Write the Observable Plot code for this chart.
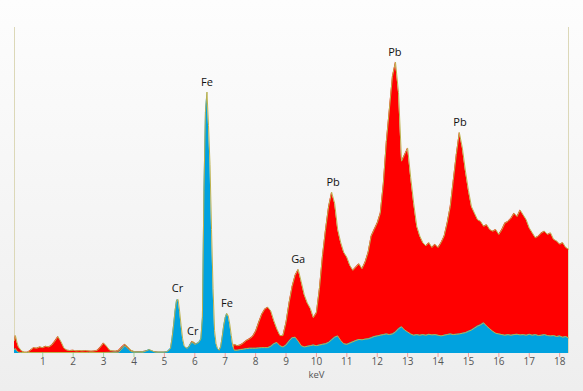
<!DOCTYPE html>
<html><head><meta charset="utf-8">
<script src="https://cdn.jsdelivr.net/npm/d3@7"></script>
<script src="https://cdn.jsdelivr.net/npm/@observablehq/plot@0.6"></script>
<style>
html,body{margin:0;padding:0;width:583px;height:391px;overflow:hidden;background:linear-gradient(#fdfdfd,#eeeeee)}
</style></head><body><div id="chart"></div>
<script>
// energies (keV) shared by both spectra above 8 keV
const highKeV = [
 8.0,8.1,8.2,8.3,8.4,8.5,8.6,8.7,8.8,8.9,
 9.0,9.1,9.2,9.3,9.4,9.5,9.6,9.7,9.8,9.9,
 10.0,10.1,10.2,10.3,10.4,10.5,10.6,10.7,10.8,10.9,
 11.0,11.1,11.2,11.3,11.4,11.5,11.6,11.7,11.8,11.9,
 12.0,12.1,12.2,12.3,12.4,12.5,12.6,12.7,12.8,12.9,
 13.0,13.1,13.2,13.3,13.4,13.5,13.6,13.7,13.8,13.9,
 14.0,14.1,14.2,14.3,14.4,14.5,14.6,14.7,14.8,14.9,
 15.0,15.1,15.2,15.3,15.4,15.5,15.6,15.7,15.8,15.9,
 16.0,16.1,16.2,16.3,16.4,16.5,16.6,16.7,16.8,16.9,
 17.0,17.1,17.2,17.3,17.4,17.5,17.6,17.7,17.8,17.9,
 18.0,18.1,18.2,18.29];

// red spectrum
const redLowKeV = [
 0.07,0.1,0.15,0.2,0.3,0.4,0.5,0.6,0.7,0.8,0.9,
 1.0,1.1,1.2,1.3,1.4,1.5,1.6,1.7,1.8,1.9,
 2.0,2.1,2.2,2.3,2.4,2.5,2.6,2.7,2.8,2.9,
 3.0,3.1,3.2,3.3,3.4,3.5,3.6,3.7,3.8,3.9,
 4.0,4.1,4.2,4.3,4.4,4.5,4.6,4.7,4.8,4.9,
 5.0,5.1,5.2,5.5,5.8,5.9,6.0,6.1,6.8,7.2,7.3,7.4,7.5,7.6,7.7,7.8,7.9];
const redLowCounts = [
 4.0,5.5,3.5,2.0,0.8,0.4,0.4,1.0,1.8,1.6,2.0,
 1.8,2.2,2.0,2.6,3.8,5.2,3.6,1.6,1.0,0.9,
 1.0,0.8,0.9,0.8,0.9,0.8,0.7,0.8,1.0,2.0,
 3.2,2.2,1.0,0.8,0.7,1.0,2.0,2.8,2.0,1.0,
 0.6,0.5,0.5,0.6,0.8,1.0,0.7,0.5,0.4,0.4,
 0.4,0.4,0.4,0.4,1.5,3.7,3.3,0.5,0.5,0.5,2.8,2.4,2.6,3.2,4.0,4.5,5.2];
const redHighCounts = [
 6.8,9.5,12.0,13.6,14.2,13.0,10.0,7.5,5.5,5.5,
 9.5,15.5,20.5,24.0,25.8,22.0,18.0,15.5,13.8,11.0,
 12.5,20.0,30.0,38.0,45.0,49.5,46.0,38.0,34.0,31.0,
 29.5,27.0,25.5,26.5,27.5,26.0,28.0,31.0,36.0,38.0,
 40.0,43.0,52.0,65.0,75.0,85.0,89.4,80.0,59.0,61.0,
 63.0,54.0,46.0,39.0,36.0,34.0,33.0,34.0,32.5,33.5,
 32.5,34.0,36.0,40.0,45.0,53.0,61.0,67.8,63.0,56.0,
 50.0,45.0,43.0,41.0,40.5,39.0,39.5,38.0,37.5,38.0,
 36.5,38.0,40.0,40.5,41.5,43.0,42.0,44.0,42.5,41.0,
 38.5,37.0,35.5,36.0,37.0,37.5,36.5,37.0,35.0,34.5,
 33.5,34.0,32.5,32.0];

// blue spectrum
const blueLowKeV = [
 0.07,0.1,0.15,0.2,0.3,0.5,1.0,1.5,2.0,2.5,3.0,3.5,3.6,3.7,3.8,3.9,4.0,4.3,4.4,4.5,4.6,4.7,5.0,5.1,
 5.2,5.25,5.3,5.35,5.4,5.45,5.5,5.55,5.6,5.65,5.7,5.75,5.8,5.85,5.9,5.95,
 6.0,6.05,6.1,6.15,6.2,6.25,6.3,6.35,6.4,6.45,6.5,6.55,6.6,6.65,6.7,6.75,6.8,6.85,6.9,6.95,
 7.0,7.05,7.1,7.15,7.2,7.25,7.3,7.4,7.5,7.6,7.7,7.8,7.9];
const blueLowCounts = [
 1.2,1.5,0.8,0.4,0.3,0.3,0.3,0.3,0.3,0.3,0.3,0.4,1.4,2.4,1.6,0.6,0.4,0.4,0.8,1.2,0.8,0.4,0.4,0.6,
 1.5,4.5,8.5,13.0,16.3,16.6,13.0,8.5,4.5,2.4,1.8,1.6,2.0,2.8,3.4,3.2,
 2.8,3.0,3.2,3.6,4.5,11.0,50.0,74.0,80.2,70.0,58.0,38.0,20.0,7.0,3.0,1.5,1.0,2.0,5.0,8.5,
 11.0,12.3,11.5,9.0,5.5,2.2,1.0,1.0,1.2,1.3,1.5,1.6,1.6];
const blueHighCounts = [
 1.6,1.7,1.8,1.8,1.8,2.2,3.0,3.4,2.4,2.0,
 2.6,3.8,4.8,5.0,3.8,2.4,2.0,2.2,2.4,2.6,
 2.4,2.6,2.8,3.0,3.4,4.2,5.0,5.4,4.0,3.0,
 2.8,3.2,3.6,4.0,4.3,4.2,4.4,4.5,4.8,5.2,
 5.4,5.6,5.8,6.0,5.8,6.0,6.6,7.6,8.2,7.2,
 6.6,6.0,5.6,5.8,5.6,5.8,5.6,5.9,5.7,5.8,
 5.6,5.4,5.6,5.8,6.0,5.8,5.9,6.0,6.2,6.4,
 6.8,7.2,7.8,8.4,8.8,9.4,8.4,7.6,6.8,6.2,
 6.0,5.8,5.6,5.8,5.6,5.8,5.9,5.7,5.8,5.6,
 5.9,5.6,5.8,5.5,5.6,5.8,5.5,5.4,5.5,5.2,
 5.4,5.0,5.2,4.8];

// peak labels
const peakNames = ["Cr","Cr","Fe","Fe","Ga","Pb","Pb","Pb"];
const peakKeV = [5.43,5.93,6.40,7.06,9.40,10.55,12.58,14.72];
const peakCounts = [16.9,3.6,80.2,12.3,25.8,49.5,89.4,67.8];

// axis
const tickValues = [1,2,3,4,5,6,7,8,9,10,11,12,13,14,15,16,17,18];
const axisTitle = "keV";
const axisTitleKeV = 10;
const xDomain = [0.07, 18.29];
const yDomain = [0, 100];

const red = redLowKeV.concat(highKeV).map((x, i) => ({x, y: redLowCounts.concat(redHighCounts)[i]}));
const blue = blueLowKeV.concat(highKeV).map((x, i) => ({x, y: blueLowCounts.concat(blueHighCounts)[i]}));
const peaks = peakNames.map((name, i) => ({name, x: peakKeV[i], y: peakCounts[i]}));

const edge = "#bdb24e";
const chart = Plot.plot({
  width: 583, height: 391,
  marginLeft: 14, marginRight: 15, marginTop: 27, marginBottom: 38,
  x: {domain: xDomain},
  y: {domain: yDomain, axis: null},
  style: {background: "transparent", fontFamily: "'Open Sans', sans-serif"},
  marks: [
    Plot.ruleX(xDomain, {stroke: "#dcd8b8", strokeWidth: 1}),
    Plot.areaY(red, {x: "x", y: "y", fill: "#ff0000"}),
    Plot.lineY(red, {x: "x", y: "y", stroke: edge, strokeWidth: 1}),
    Plot.areaY(blue, {x: "x", y: "y", fill: "#00a2df"}),
    Plot.lineY(blue, {x: "x", y: "y", stroke: edge, strokeWidth: 1}),
    Plot.axisX(tickValues.filter(d => d < 5), {tickSize: 4, tickPadding: 0, stroke: "#9ed69e", fill: "#555", fontSize: 10, label: null}),
    Plot.axisX(tickValues.filter(d => d >= 5), {tickSize: 4, tickPadding: 0, stroke: "#f29c9c", fill: "#555", fontSize: 10, label: null}),
    Plot.text([{t: axisTitle, x: axisTitleKeV}], {x: "x", y: () => 0, text: "t", dy: 21, fill: "#555", fontSize: 9.5}),
    Plot.text(peaks, {x: "x", y: "y", text: "name", dy: -10, fill: "#111", fontSize: 11})
  ]
});
document.getElementById("chart").appendChild(chart);
</script></body></html>
